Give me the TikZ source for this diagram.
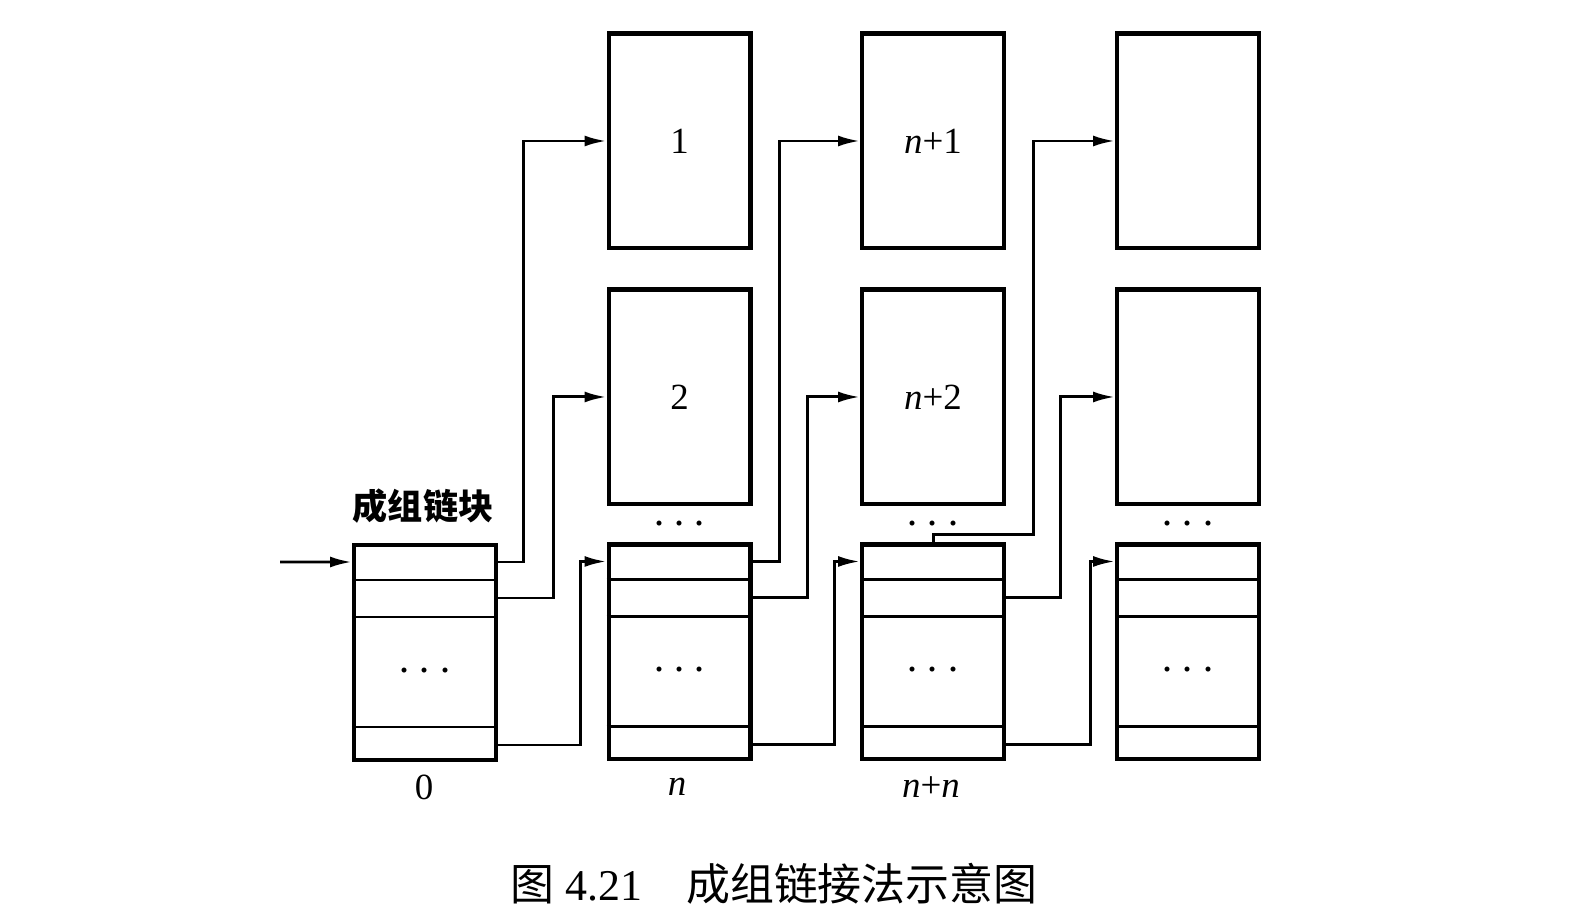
\documentclass[tikz,border=0pt]{standalone}
\usepackage{fontspec}
\setmainfont{Liberation Serif}
\newfontfamily\cjk{Noto Sans CJK SC}
\usepackage{tikz}
\usetikzlibrary{arrows.meta,positioning,calc}
\newcommand{\threedots}{\textperiodcentered\hspace{0.15em}\textperiodcentered\hspace{0.15em}\textperiodcentered}

\begin{document}
\begin{tikzpicture}[x=0.02cm, y=-0.02cm, every node/.style={font=\fontsize{21}{25}\selectfont}]
\tikzset{datablk/.style={draw, line width=2.3pt, minimum width=2.84cm, minimum height=4.3cm, inner sep=0pt}}
\tikzset{grpblk/.style={draw, line width=2.3pt, minimum width=2.84cm, minimum height=4.3cm, inner sep=0pt}}
\tikzset{rowline/.style={line width=1.7pt}}
\tikzset{link/.style={-{Latex[length=0.44cm,width=0.22cm]}, line width=1.7pt}}
\tikzset{dotrow/.style={inner sep=0pt, font=\fontsize{24}{24}\selectfont}}
\useasboundingbox (0,0) rectangle (1582,918);
\node[datablk] (d1) at (679.5,141) {1};
\node[datablk, below=0.74cm of d1] (d2) {2};
\node[datablk] (e1) at (933,141) {\textit{n}+1};
\node[datablk, below=0.74cm of e1] (e2) {\textit{n}+2};
\node[datablk] (f1) at (1188,141) {};
\node[datablk, below=0.74cm of f1] (f2) {};
\node[grpblk] (g0) at (425,652.5) {};
\node[grpblk, below=0.72cm of d2] (g1) {};
\node[grpblk, below=0.72cm of e2] (g2) {};
\node[grpblk, below=0.72cm of f2] (g3) {};
\foreach \b in {g0,g1,g2,g3}
  \foreach \r in {37,74,184}
    \draw[rowline] ($(\b.north west)+(0,\r)$) -- ($(\b.north east)+(0,\r)$);
\node[dotrow] (dg0) at ($(g0.north)+(0,133)$) {\threedots};
\node[dotrow] (dg1) at ($(g1.north)+(0,133)$) {\threedots};
\node[dotrow] (dg2) at ($(g2.north)+(0,133)$) {\threedots};
\node[dotrow] (dg3) at ($(g3.north)+(0,133)$) {\threedots};
\node[dotrow] (dd2) at ($(d2.south)+(0,23)$) {\threedots};
\node[dotrow] (de2) at ($(e2.south)+(0,23)$) {\threedots};
\node[dotrow] (df2) at ($(f2.south)+(0,23)$) {\threedots};
\node[font=\cjk\bfseries\fontsize{20}{24}\selectfont] (title) at (423,506) {成组链块};
\node (l0) at (424,787) {0};
\node (l1) at (677,787) {\textit{n}};
\node (l2) at (931,787) {\textit{n}+\textit{n}};
\node[font=\fontsize{25}{30}\selectfont] (cap) at (774,884) {{\cjk 图} 4.21\quad{\cjk 成组链接法示意图}};
\coordinate (in) at (280,562);
\draw[link] (in) -- ($(g0.north west)+(0,19)$);
\draw[link] ($(g0.north east)+(0,19)$) -- ++(25,0) |- (d1.west);
\draw[link] ($(g0.north east)+(0,55)$) -- ++(55,0) |- (d2.west);
\draw[link] ($(g0.north east)+(0,202)$) -- ++(82,0) |- ($(g1.north west)+(0,19)$);
\draw[link] ($(g1.north east)+(0,19)$) -- ++(27,0) |- (e1.west);
\draw[link] ($(g1.north east)+(0,55)$) -- ++(55,0) |- (e2.west);
\draw[link] ($(g1.north east)+(0,202)$) -- ++(82,0) |- ($(g2.north west)+(0,19)$);
\draw[link] (g2.north) -- ++(0,-8) -- ++(100,0) |- (f1.west);
\draw[link] ($(g2.north east)+(0,55)$) -- ++(54,0) |- (f2.west);
\draw[link] ($(g2.north east)+(0,202)$) -- ++(84,0) |- ($(g3.north west)+(0,19)$);
\end{tikzpicture}
\end{document}
